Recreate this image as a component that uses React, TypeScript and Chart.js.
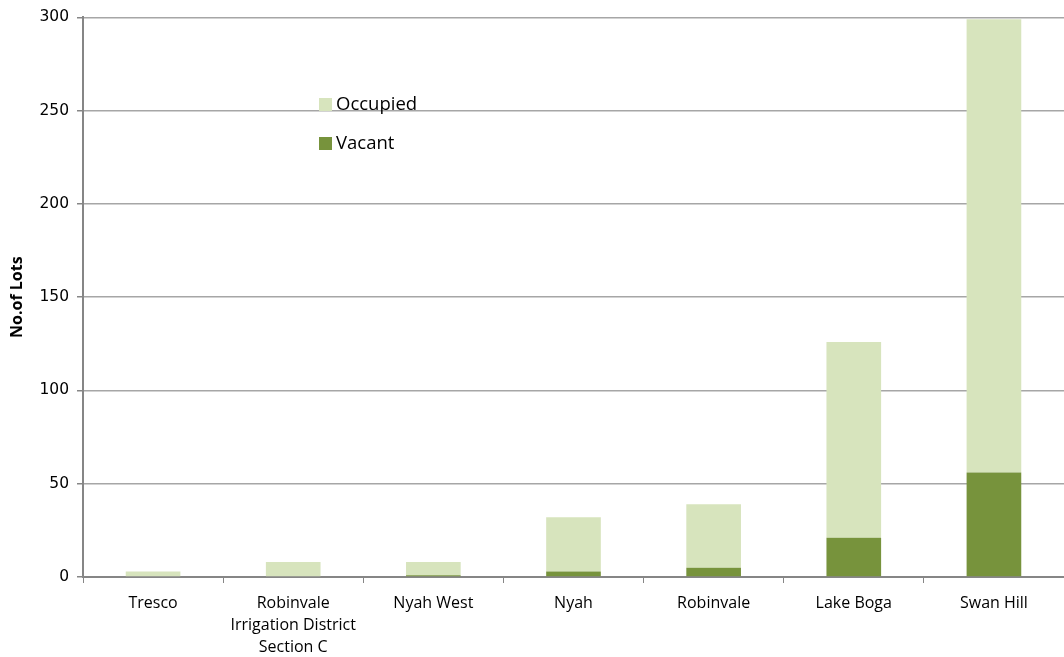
import React, { useEffect, useRef } from "react";
import { Chart, registerables } from "chart.js";

Chart.register(...registerables);

const categories: (string | string[])[] = [
  "Tresco",
  ["Robinvale", "Irrigation District", "Section C"],
  "Nyah West",
  "Nyah",
  "Robinvale",
  "Lake Boga",
  "Swan Hill",
];
const vacant = [0, 0, 1, 3, 5, 21, 56];
const occupied = [3, 8, 7, 29, 34, 105, 243];
const yTicks = [0, 50, 100, 150, 200, 250, 300];

const OCC_COLOR = "#D7E4BD";
const VAC_COLOR = "#77933C";

const legendPlugin = {
  id: "customLegend",
  afterDraw(chart: any) {
    const ctx = chart.ctx;
    ctx.save();
    const items = [
      { label: "Occupied", color: OCC_COLOR, y: 104.5 },
      { label: "Vacant", color: VAC_COLOR, y: 143.5 },
    ];
    ctx.font = "18.5px 'Open Sans', sans-serif";
    ctx.textBaseline = "middle";
    ctx.textAlign = "left";
    for (const it of items) {
      ctx.fillStyle = it.color;
      ctx.fillRect(319, it.y - 6.5, 13, 13);
      ctx.fillStyle = "#000";
      ctx.fillText(it.label, 336, it.y);
    }
    ctx.restore();
  },
};

export default function App() {
  const ref = useRef<HTMLCanvasElement>(null);
  useEffect(() => {
    document.body.style.margin = "0";
    const chart = new Chart(ref.current!, {
      type: "bar",
      data: {
        labels: categories,
        datasets: [
          {
            label: "Vacant",
            data: vacant,
            backgroundColor: VAC_COLOR,
            barPercentage: 0.39,
            categoryPercentage: 1,
          },
          {
            label: "Occupied",
            data: occupied,
            backgroundColor: OCC_COLOR,
            barPercentage: 0.39,
            categoryPercentage: 1,
          },
        ],
      },
      options: {
        animation: false,
        responsive: false,
        maintainAspectRatio: false,
        layout: { padding: { top: 17, right: 0, left: 0, bottom: 0 } },
        plugins: { legend: { display: false }, tooltip: { enabled: false } },
        scales: {
          x: {
            stacked: true,
            grid: {
              offset: true,
              drawOnChartArea: false,
              drawTicks: true,
              tickLength: 6,
              color: "#868686",
            },
            border: { color: "#868686", width: 2 },
            ticks: {
              color: "#000",
              font: { family: "'Open Sans', sans-serif", size: 16, lineHeight: 1.375 },
              padding: 9,
              maxRotation: 0,
              autoSkip: false,
            },
            afterFit(scale: any) {
              scale.height = 80;
            },
          },
          y: {
            stacked: true,
            min: 0,
            max: 300,
            afterBuildTicks(scale: any) {
              scale.ticks = yTicks.map((v) => ({ value: v }));
            },
            grid: {
              color: "#A6A6A6",
              lineWidth: 1.5,
              tickLength: 6,
              tickColor: "#868686",
            },
            border: { color: "#868686", width: 2 },
            ticks: {
              color: "#000",
              font: { family: "'DejaVu Sans', sans-serif", size: 15.5 },
              padding: 8,
            },
            title: {
              display: true,
              text: "No.of Lots",
              color: "#000",
              font: { family: "'Open Sans', sans-serif", size: 16, weight: "bold" },
              padding: { top: 8, bottom: 0 },
            },
            afterFit(scale: any) {
              scale.width = 83;
            },
          },
        },
      },
      plugins: [legendPlugin],
    });
    return () => chart.destroy();
  }, []);
  return (
    <div style={{ position: "fixed", left: 0, top: 0, width: 1064, height: 657, background: "#fff" }}>
      <canvas ref={ref} width={1064} height={657} style={{ width: 1064, height: 657 }} />
    </div>
  );
}
